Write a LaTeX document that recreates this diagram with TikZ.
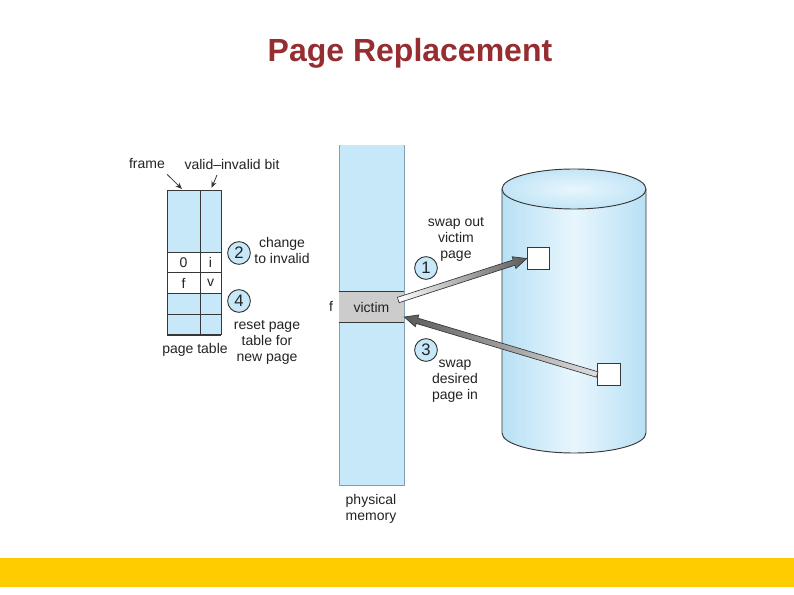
\documentclass[tikz,border=0pt]{standalone}
\usepackage{fontspec}
\setmainfont{Liberation Sans}
\usetikzlibrary{calc,arrows.meta}
\definecolor{bluef}{RGB}{198,232,248}
\definecolor{cylb}{RGB}{184,224,245}
\definecolor{cylc}{RGB}{232,246,253}
\definecolor{linec}{RGB}{55,55,55}
\definecolor{memline}{RGB}{130,160,178}
\definecolor{victimf}{RGB}{204,204,204}
\definecolor{titlec}{RGB}{150,45,48}
\definecolor{barcol}{RGB}{255,204,0}
\definecolor{arrd}{RGB}{90,90,90}
\definecolor{textc}{RGB}{35,35,35}
\newcommand{\fatarr}[4]{%
  \coordinate (fhb) at ($(#2)!10pt!(#1)$);
  \shade[draw=linec, line width=0.5pt, left color=#3, right color=#4]
    ($(#1)!2.1pt!90:(#2)$) -- ($(fhb)!2.1pt!90:(#2)$) -- ($(fhb)!4.6pt!90:(#2)$)
    -- (#2) -- ($(fhb)!4.6pt!-90:(#2)$) -- ($(fhb)!2.1pt!-90:(#2)$)
    -- ($(#1)!2.1pt!-90:(#2)$) -- cycle;}
\begin{document}
\begin{tikzpicture}[x=0.75pt,y=-0.75pt,
  font=\fontsize{10.5}{12}\selectfont,
  lbl/.style={align=center, inner sep=0pt, text=textc},
  numc/.style={circle, draw=linec, fill=bluef, line width=0.7pt, minimum size=17pt,
    inner sep=0pt, text=textc, font=\fontsize{12.5}{14}\selectfont},
  tline/.style={draw=linec, line width=0.7pt},
  sq/.style={draw=linec, fill=white, line width=0.7pt, minimum size=17pt, inner sep=0pt},
  thinarr/.style={-{Stealth[length=5pt,width=4pt]}, draw=linec, line width=0.6pt}]
\useasboundingbox (0,0) rectangle (794,595);
\fill[fill=white] (0,0) rectangle (794,595);
\fill[fill=barcol] (0,558) rectangle (794,587);
\node[inner sep=0pt, anchor=base, text=titlec, font=\fontsize{24}{28}\selectfont\bfseries] (title) at (410,62) {Page Replacement};

% page table
\fill[bluef] (167,190) rectangle (221,252);
\fill[white] (167,252) rectangle (221,293);
\fill[bluef] (167,293) rectangle (221,335);
\draw[tline] (167,335) -- (167,190) -- (221,190) -- (221,335);
\draw[tline] (200,190) -- (200,335);
\foreach \yy in {252,272,293,314} \draw[tline] (167,\yy) -- (221,\yy);
\draw[draw=linec, line width=1.2pt] (167,335) -- (221,335);
\node[lbl] (pt0) at (183.5,262.5) {0};
\node[lbl] (pti) at (210.5,262.5) {i};
\node[lbl] (ptf) at (183.5,283) {f};
\node[lbl] (ptv) at (210.5,283) {v};
\node[lbl] (frame) at (147,164) {frame};
\node[lbl] (vib) at (232,164) {valid–invalid bit};
\coordinate (fa1) at (182,189);
\coordinate (va0) at (217,175);
\coordinate (va1) at (211.5,188);
\draw[thinarr] ([shift={(2,5)}]frame.south east) -- (fa1);
\draw[thinarr] (va0) -- (va1);
\node[lbl] (ptlab) at (195,350) {page table};

\node[numc] (c2) at (239,253) {2};
\node[numc] (c4) at (239,301) {4};
\node[lbl] (chg) at (282,250.5) {change\\to invalid};
\node[lbl] (reset) at (267,342) {reset page\\table for\\new page};

% cylinder
\shade[left color=cylb, right color=cylb, middle color=cylc]
  (502,189) -- (502,433) arc[start angle=180, end angle=0, x radius=72, y radius=20]
  -- (646,189) arc[start angle=0, end angle=-180, x radius=72, y radius=20] -- cycle;
\shade[inner color=cylc, outer color=cylb!85!white] (574,189) ellipse [x radius=72, y radius=20];
\draw[linec, line width=0.7pt]
  (502,189) -- (502,433) arc[start angle=180, end angle=0, x radius=72, y radius=20]
  -- (646,189);
\draw[linec, line width=0.7pt] (574,189) ellipse [x radius=72, y radius=20];
\node[sq] (s1) at (538.5,258.5) {};
\node[sq] (s2) at (609,374.5) {};

% physical memory
\fill[bluef] (339,145) rectangle (404,485);
\draw[memline, line width=0.6pt] (339,145) -- (339,485) -- (404,485) -- (404,145);
\node[fill=victimf, minimum width=48.75pt, minimum height=22.5pt, inner sep=0pt, text=textc] (victim) at (371.5,307) {victim};
\draw[tline] (victim.north west) -- (victim.north east);
\draw[tline] (victim.south west) -- (victim.south east);
\node[lbl] (fl) at (331,306) {f};
\node[lbl] (phys) at (371,509) {physical\\memory};

\node[numc] (c1) at (426,268) {1};
\node[numc] (c3) at (426,350) {3};
\node[lbl] (swo) at (456,239) {swap out\\victim\\page};
\node[lbl] (swi) at (455,381) {swap\\desired\\page in};

% fat arrows
\coordinate (a1t) at ($(victim.east)+(-6,-7)$);
\coordinate (a1h) at (s1.west);
\fatarr{a1t}{a1h}{white}{arrd}
\coordinate (a3t) at (s2.west);
\coordinate (a3h) at ($(victim.east)+(0,10)$);
\fatarr{a3t}{a3h}{arrd}{white!75!gray}
\end{tikzpicture}
\end{document}
